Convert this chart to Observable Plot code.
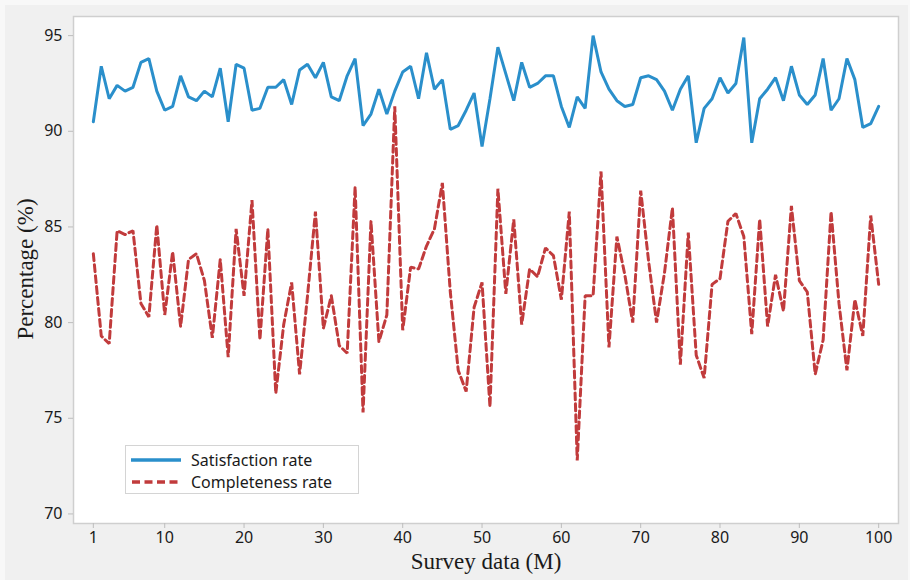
<!DOCTYPE html>
<html>
<head>
<meta charset="utf-8">
<script src="https://cdn.jsdelivr.net/npm/d3@7"></script>
<script src="https://cdn.jsdelivr.net/npm/@observablehq/plot@0.6"></script>
<style>
  html, body { margin: 0; padding: 0; background: #f0f0f0; }
  #wrap { position: relative; width: 910px; height: 580px; overflow: hidden; }
  .strip { position: absolute; background: #f8f8f8; }
  #ytitle {
    position: absolute; left: 25px; top: 269px; white-space: nowrap;
    transform: translate(-50%, -50%) rotate(-90deg);
    font-family: "Liberation Serif", serif; font-size: 23px; color: #1a1a1a; line-height: 1;
  }
  #legend {
    position: absolute; left: 125px; top: 445px; width: 234px; height: 49px;
    background: #fff; border: 1px solid #d4d4d4; box-sizing: border-box;
    font-family: "Noto Sans", "Open Sans", sans-serif; font-size: 16px; color: #1a1a1a;
  }
  #legend .row { position: absolute; left: 5px; height: 22px; display: flex; align-items: center; }
  #legend svg { width: 50px; height: 8px; margin-right: 10px; }
</style>
</head>
<body>
<div id="wrap">
  <div id="chart"></div>
  <div class="strip" style="left:0;top:0;width:910px;height:5px"></div>
  <div class="strip" style="left:0;top:0;width:5px;height:580px"></div>
  <div class="strip" style="left:908px;top:0;width:2px;height:580px"></div>
  <div id="ytitle">Percentage (%)</div>
  <div id="legend">
    <div class="row" style="top:3px"><svg><line x1="0" x2="50" y1="4" y2="4" stroke="#2a8fcb" stroke-width="3.5"/></svg><span>Satisfaction rate</span></div>
    <div class="row" style="top:25px"><svg><line x1="1" x2="50" y1="4" y2="4" stroke="#c13b3c" stroke-width="3.5" stroke-dasharray="8,4.5"/></svg><span>Completeness rate</span></div>
  </div>
</div>
<script>
const satisfaction = [
  90.5, 93.4, 91.7, 92.4, 92.1, 92.3, 93.6, 93.8, 92.1, 91.1,
  91.3, 92.9, 91.8, 91.6, 92.1, 91.8, 93.3, 90.5, 93.5, 93.3,
  91.1, 91.2, 92.3, 92.3, 92.7, 91.4, 93.2, 93.5, 92.8, 93.6,
  91.8, 91.6, 92.9, 93.8, 90.3, 90.9, 92.2, 90.9, 92.1, 93.1,
  93.4, 91.7, 94.1, 92.2, 92.7, 90.1, 90.3, 91.1, 92.0, 89.2,
  91.7, 94.4, 93.0, 91.6, 93.6, 92.3, 92.5, 92.9, 92.9, 91.3,
  90.2, 91.8, 91.2, 95.0, 93.1, 92.2, 91.6, 91.3, 91.4, 92.8,
  92.9, 92.7, 92.1, 91.1, 92.2, 92.9, 89.4, 91.2, 91.7, 92.8,
  92.0, 92.5, 94.9, 89.4, 91.7, 92.2, 92.8, 91.6, 93.4, 91.9,
  91.4, 91.9, 93.8, 91.1, 91.7, 93.8, 92.7, 90.2, 90.4, 91.3
];
const completeness = [
  83.6, 79.3, 78.9, 84.8, 84.6, 84.8, 81.0, 80.3, 85.1, 80.4,
  83.7, 79.8, 83.3, 83.6, 82.2, 79.2, 83.3, 78.2, 84.9, 81.4,
  86.4, 79.1, 84.9, 76.3, 79.9, 82.1, 77.3, 81.4, 85.8, 79.7,
  81.4, 78.8, 78.4, 87.1, 75.3, 85.3, 79.0, 80.4, 91.3, 79.6,
  82.9, 82.8, 84.0, 84.9, 87.3, 81.6, 77.5, 76.4, 80.8, 82.1,
  75.6, 87.0, 81.5, 85.4, 79.9, 82.8, 82.4, 83.9, 83.5, 81.2,
  85.8, 72.8, 81.4, 81.4, 87.9, 78.7, 84.5, 82.5, 80.0, 86.9,
  83.2, 80.0, 82.6, 86.0, 77.8, 84.7, 78.3, 77.1, 82.0, 82.3,
  85.3, 85.7, 84.5, 79.4, 85.4, 79.8, 82.5, 80.6, 86.1, 82.2,
  81.6, 77.3, 79.1, 85.8, 81.0, 77.5, 81.2, 79.3, 85.6, 82.0
];
const xTicks = [1, 10, 20, 30, 40, 50, 60, 70, 80, 90, 100];
const yTicks = [70, 75, 80, 85, 90, 95];

const satRows = satisfaction.map((v, i) => ({x: i + 1, y: v}));
const comRows = completeness.map((v, i) => ({x: i + 1, y: v}));

const chart = Plot.plot({
  width: 910,
  height: 580,
  marginLeft: 73,
  marginTop: 16,
  marginRight: 12,
  marginBottom: 57,
  style: {background: "#f0f0f0", fontFamily: "'Noto Sans', 'Open Sans', sans-serif", overflow: "visible"},
  x: {domain: [-1.5, 102.5]},
  y: {domain: [69.5, 96]},
  marks: [
    Plot.frame({fill: "white", stroke: "#cfcfcf", strokeWidth: 1.5}),
    Plot.axisY({ticks: yTicks, tickSize: 5, tickPadding: 6, stroke: "#bdbdbd", fill: "#1a1a1a", fontSize: 16, label: null}),
    Plot.axisX({ticks: xTicks, tickSize: 5, tickPadding: 3, stroke: "#bdbdbd", fill: "#1a1a1a", fontSize: 16, label: null}),
    Plot.line(satRows, {x: "x", y: "y", stroke: "#2a8fcb", strokeWidth: 3, strokeLinejoin: "miter"}),
    Plot.line(comRows, {x: "x", y: "y", stroke: "#c13b3c", strokeWidth: 3, strokeDasharray: "7,4", strokeLinejoin: "miter"}),
    Plot.text(["Survey data (M)"], {frameAnchor: "bottom", dy: 45, fontSize: 23, fontFamily: "'Liberation Serif', serif", fill: "#1a1a1a"})
  ]
});
document.getElementById("chart").appendChild(chart);
</script>
</body>
</html>
